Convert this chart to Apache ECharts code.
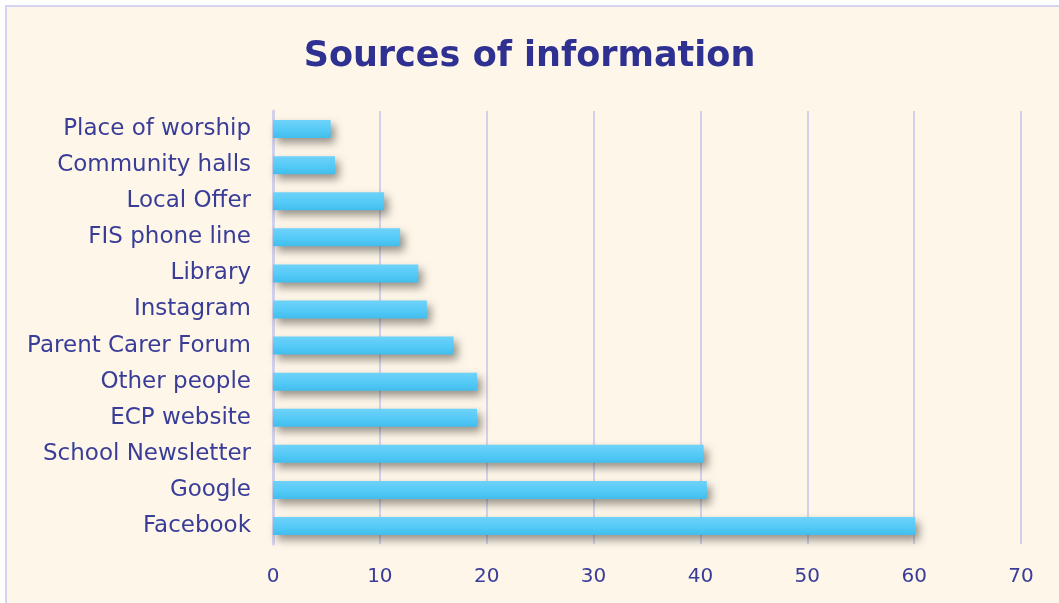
<!DOCTYPE html>
<html>
<head>
<meta charset="utf-8">
<script src="https://cdn.jsdelivr.net/npm/echarts@6/dist/echarts.min.js"></script>
<style>
  html, body { margin: 0; padding: 0; background: #ffffff; overflow: hidden; }
  #wrap {
    position: absolute; left: 5px; top: 5px; width: 1060px; height: 605px;
    border: 2px solid #d6d3f0; background: #fdf6e9; box-sizing: border-box;
  }
  #chart { position: absolute; left: -7px; top: -7px; width: 1059px; height: 603px; }
</style>
</head>
<body>
<div id="wrap"><div id="chart"></div></div>
<script>
// categories (top to bottom as shown)
const categories = [
  'Place of worship', 'Community halls', 'Local Offer', 'FIS phone line',
  'Library', 'Instagram', 'Parent Carer Forum', 'Other people',
  'ECP website', 'School Newsletter', 'Google', 'Facebook'
]
// values
const values = [5.4, 5.8, 10.4, 11.9, 13.6, 14.4, 16.9, 19.1, 19.1, 40.3, 40.6, 60.1]
const xTicks = { min: 0, max: 70, interval: 10 }

const textColor = '#3a3d98'
const gridColor = '#d3d0ea'

const chart = echarts.init(document.getElementById('chart'))
const option = {
  backgroundColor: 'transparent',
  title: {
    text: 'Sources of information',
    left: 'center',
    top: 34,
    textStyle: {
      fontFamily: 'DejaVu Sans',
      fontSize: 35,
      fontWeight: 'bold',
      color: '#2f3192'
    }
  },
  grid: {
    left: 273,
    right: 38,
    top: 111,
    bottom: 59
  },
  xAxis: {
    type: 'value',
    min: xTicks.min,
    max: xTicks.max,
    interval: xTicks.interval,
    axisLine: { show: false },
    axisTick: { show: false },
    axisLabel: {
      color: textColor,
      fontFamily: 'DejaVu Sans',
      fontSize: 20,
      margin: 23
    },
    splitLine: { lineStyle: { color: gridColor, width: 2 } }
  },
  yAxis: {
    type: 'category',
    data: categories,
    inverse: true,
    axisLine: { show: true, lineStyle: { color: gridColor, width: 3 } },
    axisTick: { show: false },
    axisLabel: {
      color: textColor,
      fontFamily: 'DejaVu Sans',
      fontSize: 23,
      margin: 22,
      padding: [7, 0, 0, 0]
    }
  },
  series: [
    {
      type: 'bar',
      data: values,
      barWidth: 18,
      itemStyle: {
        color: new echarts.graphic.LinearGradient(0, 0, 0, 1, [
          { offset: 0, color: '#6fd2f9' },
          { offset: 0.6, color: '#52c9f7' },
          { offset: 1, color: '#42bdec' }
        ]),
        shadowColor: 'rgba(50, 45, 40, 0.5)',
        shadowBlur: 9,
        shadowOffsetX: 4,
        shadowOffsetY: 5
      }
    }
  ]
}
chart.setOption(option)
</script>
</body>
</html>
